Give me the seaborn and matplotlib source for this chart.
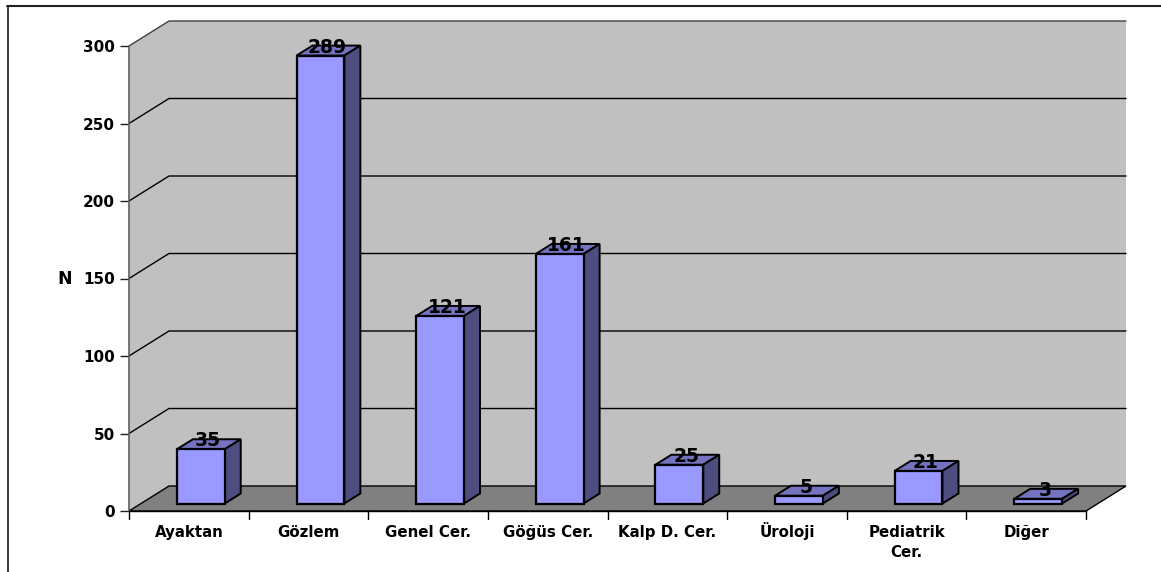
import matplotlib
matplotlib.use("Agg")
import matplotlib.pyplot as plt
from matplotlib.lines import Line2D
from matplotlib.patches import Polygon
from matplotlib.transforms import Affine2D
import seaborn as sns
import pandas as pd

categories = ["Ayaktan", "Gözlem", "Genel Cer.", "Göğüs Cer.", "Kalp D. Cer.",
              "Üroloji", "Pediatrik\nCer.", "Diğer"]
counts = [35, 289, 121, 161, 25, 5, 21, 3]
y_ticks = [0, 50, 100, 150, 200, 250, 300]

W, H = 1161, 572
DEPTH_X, DEPTH_Y = 40, 25      # floor depth in pixels
BAR_NEAR, BAR_FAR = 0.30, 0.70 # where bars sit across the floor depth

sns.set_theme(style="white")
plt.rcParams["font.family"] = ["DejaVu Sans"]

fig = plt.figure(figsize=(W / 100, H / 100), dpi=100, facecolor="white")
ax = fig.add_axes([129 / W, (H - 511) / H, 957 / W, 465 / H])

df = pd.DataFrame({"category": categories, "n": counts})
sns.barplot(data=df, x="category", y="n", ax=ax, color="#9999FF", saturation=1,
            width=0.40, edgecolor="black", linewidth=1.6, zorder=5)
ax.set_xlim(-0.5, len(categories) - 0.5)
ax.set_ylim(0, 300)


def depth(frac):
    """Data transform pushed back by a fraction of the floor depth."""
    return ax.transData + Affine2D().translate(DEPTH_X * frac, DEPTH_Y * frac)


def project(points):
    """Turn (x, y, depth fraction) triples into pixel vertices."""
    return [depth(f).transform((x, y)) for x, y, f in points]


fig.canvas.draw()
x0, x1 = ax.get_xlim()
y_top = y_ticks[-1]
pixel_kw = dict(transform=None, clip_on=False)

# Back wall, side wall and floor
ax.add_patch(Polygon(project([(x0, 0, 1), (x1, 0, 1), (x1, y_top, 1), (x0, y_top, 1)]),
                     facecolor="#C0C0C0", edgecolor="none", zorder=1, **pixel_kw))
ax.add_patch(Polygon(project([(x0, 0, 0), (x0, 0, 1), (x0, y_top, 1), (x0, y_top, 0)]),
                     facecolor="#C0C0C0", edgecolor="none", zorder=1, **pixel_kw))
ax.add_patch(Polygon(project([(x0, 0, 0), (x1, 0, 0), (x1, 0, 1), (x0, 0, 1)]),
                     facecolor="#808080", edgecolor="black", linewidth=1.0, zorder=2, **pixel_kw))

# Gridlines run along the side wall and then the back wall
for t in y_ticks[1:]:
    shade = "#404040" if t == y_top else "black"
    pts = project([(x0, t, 0), (x0, t, 1), (x1, t, 1)])
    ax.plot(*zip(*pts), color=shade, linewidth=1.0, zorder=3, **pixel_kw)

# Bars: front face from seaborn, then top and side faces behind it
for patch, value in zip(ax.patches[:len(counts)], counts):
    left, width = patch.get_x(), patch.get_width()
    right = left + width
    patch.set_transform(depth(BAR_NEAR))
    patch.set_clip_on(False)
    top = project([(left, value, BAR_NEAR), (right, value, BAR_NEAR),
                   (right, value, BAR_FAR), (left, value, BAR_FAR)])
    side = project([(right, 0, BAR_NEAR), (right, 0, BAR_FAR),
                    (right, value, BAR_FAR), (right, value, BAR_NEAR)])
    ax.add_patch(Polygon(top, facecolor="#7373BF", edgecolor="black", linewidth=1.4,
                         zorder=4, **pixel_kw))
    ax.add_patch(Polygon(side, facecolor="#4D4D80", edgecolor="black", linewidth=1.4,
                         zorder=4, **pixel_kw))
    ax.annotate(str(value), xy=((left + right) / 2, value), xycoords=depth(0.47),
                xytext=(0, 3.0), textcoords="offset points", ha="center", va="center",
                fontsize=13.5, fontweight="bold", color="black", zorder=8,
                annotation_clip=False)

# Axes, ticks and labels
for name in ("top", "right"):
    ax.spines[name].set_visible(False)
ax.patch.set_visible(False)
ax.spines["left"].set(color="#606060", linewidth=1.2, zorder=3)
ax.spines["bottom"].set(color="black", linewidth=1.0, zorder=3)

ax.set_yticks(y_ticks)
ax.set_yticklabels([str(t) for t in y_ticks], fontsize=11, fontweight="bold", color="black")
ax.tick_params(axis="y", length=6.5, width=1.0, color="#202020", pad=3.6, left=True)

ax.set_xticks(range(len(categories)))
ax.set_xticklabels(categories, fontsize=10.8, fontweight="bold", color="black",
                   linespacing=1.42, va="baseline")
ax.tick_params(axis="x", length=0, pad=19)
# Multi-line labels anchor on their last baseline, so push them down one line
for tick, label in zip(ax.xaxis.get_major_ticks(), categories):
    if "\n" in label:
        tick.set_pad(19 + 14.4)
for boundary in [x0 + i for i in range(len(categories) + 1)]:
    ax.plot([boundary, boundary], [0, -8 * y_top / 465], color="black", linewidth=1.0,
            clip_on=False, zorder=3)
ax.set_ylim(0, y_top)

ax.set_xlabel("")
ax.set_ylabel("N", rotation=0, fontsize=12.5, fontweight="bold", color="black",
              ha="center", va="center")
ax.yaxis.set_label_coords((65 - 129) / 957, (511 - 279) / 465)

# Chart frame: only the top and left edges fall inside the figure
fig.add_artist(Line2D([7 / W, 1], [1 - 6 / H, 1 - 6 / H], color="#202020", linewidth=1.5,
                      transform=fig.transFigure))
fig.add_artist(Line2D([7.5 / W, 7.5 / W], [0, 1 - 6 / H], color="black", linewidth=1.1,
                      transform=fig.transFigure))

fig.savefig("out.png", dpi=100)
